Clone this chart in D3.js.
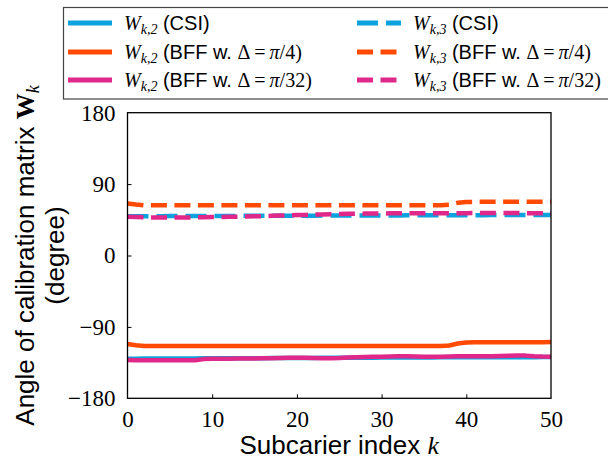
<!DOCTYPE html>
<html lang="en">
<head>
    <meta charset="UTF-8">
    <title>Calibration matrix angle</title>
    <script src="https://d3js.org/d3.v7.min.js"></script>
    <style>
        body { margin: 0; background: #fff; }
        svg { display: block; }
    </style>
</head>
<body>
    <svg id="chart" width="608" height="460"></svg>
    <script>
    // subcarrier index k
    const subcarriers = [0,1,2,3,4,5,6,7,8,9,10,11,12,13,14,15,16,17,18,19,20,21,22,23,24,25,
        26,27,28,29,30,31,32,33,34,35,36,37,38,39,40,41,42,43,44,45,46,47,48,49,50];

    // W_k,2 angles (degree)
    const wk2Csi = [-130.0,-130.0,-129.9,-129.9,-129.8,-129.8,-129.8,-129.7,-129.7,-129.6,
        -129.6,-129.6,-129.5,-129.5,-129.4,-129.4,-129.4,-129.3,-129.3,-129.2,
        -129.2,-129.1,-129.1,-129.0,-129.0,-128.9,-128.9,-128.9,-128.8,-128.8,
        -128.7,-128.7,-128.6,-128.6,-128.6,-128.5,-128.5,-128.4,-128.4,-128.4,
        -128.3,-128.3,-128.3,-128.2,-128.2,-128.2,-128.1,-128.1,-128.1,-128.0,-128.0];
    const wk2Pi4 = [-111.5,-113.0,-114.0,-114.0,-114.0,-114.0,-114.0,-114.0,-114.0,-114.0,
        -114.0,-114.0,-114.0,-114.0,-114.0,-114.0,-114.0,-114.0,-114.0,-114.0,
        -114.0,-114.0,-114.0,-114.0,-114.0,-114.0,-114.0,-114.0,-114.0,-114.0,
        -114.0,-114.0,-114.0,-114.0,-114.0,-114.0,-114.0,-114.0,-113.5,-111.0,
        -109.8,-109.5,-109.5,-109.5,-109.5,-109.5,-109.5,-109.5,-109.5,-109.5,-109.0];
    const wk2Pi32 = [-131.8,-132.0,-132.0,-132.0,-132.0,-132.0,-132.0,-132.0,-132.0,-130.6,
        -130.2,-130.0,-130.0,-129.9,-129.8,-129.8,-129.6,-129.4,-129.1,-129.0,
        -129.0,-129.0,-129.2,-129.6,-129.5,-129.2,-128.6,-128.2,-127.9,-127.7,
        -127.6,-127.2,-127.0,-127.0,-127.2,-127.5,-127.6,-127.5,-127.3,-127.0,
        -127.0,-127.0,-127.0,-127.0,-126.8,-126.5,-126.0,-126.2,-127.0,-127.4,-127.5];

    // W_k,3 angles (degree)
    const wk3Csi = [49.5,49.5,49.5,49.6,49.6,49.7,49.7,49.7,49.8,49.8,
        49.8,49.9,49.9,49.9,50.0,50.0,50.0,50.1,50.1,50.1,
        50.2,50.2,50.2,50.3,50.3,50.3,50.4,50.4,50.4,50.5,
        50.5,50.5,50.5,50.6,50.6,50.6,50.7,50.7,50.7,50.8,
        50.8,50.8,50.8,50.9,50.9,50.9,50.9,51.0,51.0,51.0,51.0];
    const wk3Pi4 = [65.5,64.2,63.2,63.2,63.2,63.2,63.2,63.2,63.2,63.2,
        63.2,63.2,63.2,63.2,63.2,63.2,63.2,63.2,63.2,63.2,
        63.2,63.2,63.2,63.2,63.2,63.2,63.2,63.2,63.2,63.2,
        63.2,63.2,63.2,63.2,63.2,63.2,63.2,63.2,64.0,66.5,
        67.4,67.6,67.6,67.6,67.6,67.6,67.6,67.6,67.6,67.6,67.6];
    const wk3Pi32 = [48.8,48.5,48.2,48.0,47.9,47.8,47.8,47.9,48.0,48.2,
        48.4,48.6,48.8,49.0,49.2,49.4,49.7,50.0,50.3,50.6,
        50.9,51.2,51.5,51.8,52.0,52.2,52.5,52.7,52.8,52.9,
        53.0,53.1,53.1,53.2,53.2,53.2,53.3,53.3,53.3,53.4,
        53.4,53.5,53.5,53.5,53.5,53.5,53.5,53.4,53.3,53.2,53.0];

    const xTicks = [0, 10, 20, 30, 40, 50];
    const yTicks = [-180, -90, 0, 90, 180];

    const blue = "#0ca2dd", orange = "#ff4a05", magenta = "#e0288a";
    const series = [
        { values: wk2Csi,  color: blue,    dash: null,     sub: "k,2", delta: null },
        { values: wk2Pi4,  color: orange,  dash: null,     sub: "k,2", delta: "4" },
        { values: wk2Pi32, color: magenta, dash: null,     sub: "k,2", delta: "32" },
        { values: wk3Csi,  color: blue,    dash: "21,8",   sub: "k,3", delta: null },
        { values: wk3Pi4,  color: orange,  dash: "16,7.5", sub: "k,3", delta: "4" },
        { values: wk3Pi32, color: magenta, dash: "16,7.5", sub: "k,3", delta: "32" }
    ];

    const SANS = '"Liberation Sans"';
    const SERIF = '"Liberation Serif"';

    const svg = d3.select("#chart");
    const plot = { left: 127.5, right: 551, top: 112.7, bottom: 398.3 };

    const x = d3.scaleLinear().domain([0, 50]).range([plot.left, plot.right]);
    const y = d3.scaleLinear().domain([-180, 180]).range([plot.bottom, plot.top]);

    svg.append("clipPath").attr("id", "clip")
        .append("rect")
        .attr("x", plot.left).attr("y", plot.top)
        .attr("width", plot.right - plot.left).attr("height", plot.bottom - plot.top);

    const line = d3.line()
        .x((d, i) => x(subcarriers[i]))
        .y(d => y(d));

    const lines = svg.append("g").attr("clip-path", "url(#clip)");
    series.forEach(s => {
        lines.append("path")
            .attr("d", line(s.values))
            .attr("fill", "none")
            .attr("stroke", s.color)
            .attr("stroke-width", 4.5)
            .attr("stroke-linejoin", "round")
            .attr("stroke-linecap", s.dash ? "butt" : "square")
            .attr("stroke-dasharray", s.dash);
    });

    // axes: inward ticks on bottom and left
    const xAxis = svg.append("g")
        .attr("transform", `translate(0,${plot.bottom})`)
        .call(d3.axisBottom(x).tickValues(xTicks).tickSize(-4).tickPadding(12).tickFormat(d3.format("d")));
    const yAxis = svg.append("g")
        .attr("transform", `translate(${plot.left},0)`)
        .call(d3.axisLeft(y).tickValues(yTicks).tickSize(-4).tickPadding(12)
            .tickFormat(d => d < 0 ? "\u2212" + Math.abs(d) : d));
    [xAxis, yAxis].forEach(a => {
        a.attr("font-family", null).attr("font-size", null);
        a.select(".domain").remove();
        a.selectAll(".tick line").attr("stroke", "#000").attr("stroke-width", 1);
        a.selectAll(".tick text")
            .style("font-family", SERIF).style("font-size", "23px").attr("fill", "#000");
    });
    xAxis.selectAll(".tick line").filter(d => d === 0 || d === 50).remove();
    yAxis.selectAll(".tick line").filter(d => d === -180 || d === 180).remove();
    xAxis.selectAll(".tick text").attr("dy", "0.71em");

    svg.append("rect")
        .attr("x", plot.left).attr("y", plot.top)
        .attr("width", plot.right - plot.left).attr("height", plot.bottom - plot.top)
        .attr("fill", "none").attr("stroke", "#000").attr("stroke-width", 1.3);

    // x label
    const xl = svg.append("text")
        .attr("x", (plot.left + plot.right) / 2).attr("y", 454)
        .attr("text-anchor", "middle")
        .style("font-family", SANS).style("font-size", "26px");
    xl.append("tspan").text("Subcarier index ");
    xl.append("tspan").style("font-family", SERIF).style("font-style", "italic").text("k");

    // y label, two lines
    const cy = (plot.top + plot.bottom) / 2;
    const yl = svg.append("text")
        .attr("transform", `translate(34,${cy}) rotate(-90)`)
        .attr("text-anchor", "middle")
        .style("font-family", SANS).style("font-size", "26px");
    yl.append("tspan").text("Angle of calibration matrix ");
    yl.append("tspan").style("font-family", SERIF).style("font-weight", "bold").text("W");
    yl.append("tspan").style("font-family", SERIF).style("font-style", "italic")
        .style("font-size", "18px").attr("dy", 5).text("k");
    svg.append("text")
        .attr("transform", `translate(64,${cy}) rotate(-90)`)
        .attr("text-anchor", "middle")
        .style("font-family", SANS).style("font-size", "26px")
        .text("(degree)");

    // legend
    const legend = svg.append("g");
    legend.append("rect")
        .attr("x", 63.5).attr("y", 7.5).attr("width", 560).attr("height", 91.5)
        .attr("fill", "#fff").attr("stroke", "#444").attr("stroke-width", 1.2);
    const colX = [68, 357];
    const rowY = [23, 52, 80];
    series.forEach((s, i) => {
        const cx = colX[Math.floor(i / 3)], ry = rowY[i % 3];
        legend.append("line")
            .attr("x1", cx).attr("x2", cx + 44).attr("y1", ry).attr("y2", ry)
            .attr("stroke", s.color).attr("stroke-width", 5)
            .attr("stroke-dasharray", s.dash);
        const t = legend.append("text")
            .attr("x", cx + 56).attr("y", ry + 7)
            .style("font-family", SANS).style("font-size", "20px");
        t.append("tspan").style("font-family", SERIF).style("font-style", "italic").text("W");
        t.append("tspan").style("font-family", SERIF).style("font-style", "italic")
            .style("font-size", "14px").attr("dy", 4).text(s.sub);
        if (s.delta) {
            t.append("tspan").attr("dy", -4).text(" (BFF w. ");
            t.append("tspan").style("font-family", SERIF).text("\u0394\u2009=\u2009");
            t.append("tspan").style("font-family", SERIF).style("font-style", "italic").text("\u03c0");
            t.append("tspan").style("font-family", SERIF).text("/" + s.delta + ")");
        } else {
            t.append("tspan").attr("dy", -4).text(" (CSI)");
        }
    });
    </script>
</body>
</html>
